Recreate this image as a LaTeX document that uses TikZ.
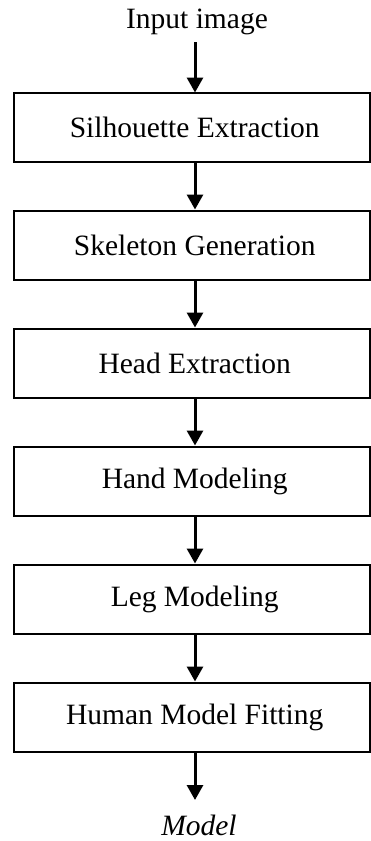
\documentclass[tikz,border=0pt]{standalone}
\usepackage{fontspec}
\setmainfont{Liberation Serif}
\usetikzlibrary{arrows.meta}
\begin{document}
\begin{tikzpicture}[x=1pt,y=-1pt,
  stagebox/.style={draw,line width=2pt,minimum width=356.5pt,minimum height=69.5pt,inner sep=0pt,font=\fontsize{29.5}{33}\selectfont,execute at begin node=\hspace*{6pt}},
  lbl/.style={inner sep=0pt,font=\fontsize{29.5}{33}\selectfont},
  flow/.style={line width=3pt,-{Triangle[width=16pt,length=15pt]}}]
\useasboundingbox (0,0) rectangle (371,841);
\node[lbl] (in) at (197,22) {Input image};
\coordinate (ins) at (195,42);
\node[stagebox] (b1) at (191.75,127.25) {Silhouette Extraction};
\node[stagebox] (b2) at (191.75,245.25) {Skeleton Generation};
\node[stagebox] (b3) at (191.75,363.25) {Head Extraction};
\node[stagebox] (b4) at (191.75,481.25) {Hand Modeling};
\node[stagebox] (b5) at (191.75,599.25) {Leg Modeling};
\node[stagebox] (b6) at (191.75,717.25) {Human Model Fitting};
\coordinate (mt) at (195,800);
\node[lbl] (out) at (199,825) {\itshape Model};
\draw[flow] (ins) -- (195,92.5);
\foreach \a/\b in {b1/b2,b2/b3,b3/b4,b4/b5,b5/b6}{
  \draw[flow] (\a.south -| ins) -- (\b.north -| ins);
}
\draw[flow] (b6.south -| ins) -- (mt);
\end{tikzpicture}
\end{document}
